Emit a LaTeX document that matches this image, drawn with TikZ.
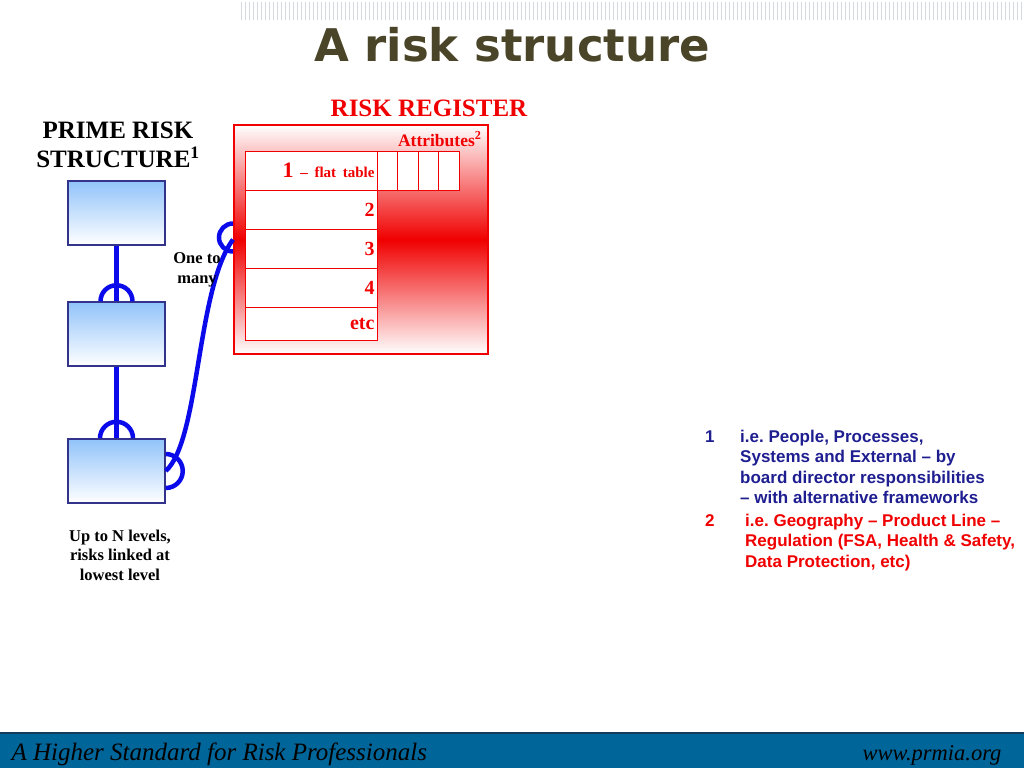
\documentclass[tikz,border=0pt]{standalone}
\usepackage{fontspec}
\setmainfont{Liberation Serif}
\newfontfamily\arialfont{Liberation Sans}
\newfontfamily\verdanafont{DejaVu Sans}
\usetikzlibrary{positioning}
\frenchspacing

\definecolor{prsblue}{RGB}{51,51,140}
\definecolor{prslight}{RGB}{145,195,250}
\definecolor{linkblue}{RGB}{10,10,235}
\definecolor{regred}{RGB}{240,0,0}
\definecolor{titleolive}{RGB}{74,68,40}
\definecolor{notesblue}{RGB}{30,30,145}
\definecolor{bandblue}{RGB}{0,102,153}
\definecolor{bandedge}{RGB}{20,60,90}
\definecolor{stripegray}{RGB}{212,216,226}

\tikzset{
  prsbox/.style={draw=prsblue, line width=1.5pt, top color=prslight, bottom color=white,
    minimum width=97pt, minimum height=64pt},
  regbox/.style={draw=regred, line width=2pt, top color=white, bottom color=white,
    middle color=regred, minimum width=254pt, minimum height=229pt},
  regrow/.style={draw=regred, line width=0.8pt, fill=white, minimum height=39pt,
    text width=127pt, inner xsep=2.5pt, inner ysep=0pt, align=right, outer sep=0pt,
    text=regred, font=\bfseries\fontsize{20}{22}\selectfont},
  attrcell/.style={draw=regred, line width=0.8pt, fill=white, minimum width=20.5pt,
    minimum height=39pt, outer sep=0pt},
  link/.style={draw=linkblue, line width=4.5pt},
  label/.style={font=\bfseries\fontsize{16.5}{19.5}\selectfont, align=center},
  heading/.style={font=\bfseries\fontsize{25}{29}\selectfont, align=center},
  note/.style={font=\arialfont\bfseries\fontsize{17}{20.5}\selectfont, inner sep=0pt, align=left}
}

\begin{document}
\begin{tikzpicture}[x=1pt,y=-1pt]
\useasboundingbox (0,0) rectangle (1024,768);
\foreach \x in {241,245,...,1023}
    \draw[stripegray, line width=0.6pt] (\x,2) -- (\x,20);
\node[font=\verdanafont\bfseries\fontsize{45}{50}\selectfont, text=titleolive] (title) at (512,45) {A risk structure};

% risk register
\node[heading, text=regred] (regtitle) at (429,108) {RISK REGISTER};
\node[regbox] (reg) at (361,239.5) {};
\node[font=\bfseries\fontsize{17.5}{20}\selectfont, text=regred, anchor=base east] (attr) at (485,146) {Attributes\textsuperscript{2}};
\node[regrow, anchor=north west] (r1) at (245,151) {\mbox{{\fontsize{22}{24}\selectfont 1} {\fontsize{15}{17}\selectfont – flat table}}};
\node[regrow, below=0pt of r1] (r2) {2};
\node[regrow, below=0pt of r2] (r3) {3};
\node[regrow, below=0pt of r3] (r4) {4};
\node[regrow, below=0pt of r4, minimum height=33pt] (r5) {etc};
\node[attrcell, right=0pt of r1] (a1) {};
\node[attrcell, right=0pt of a1] (a2) {};
\node[attrcell, right=0pt of a2] (a3) {};
\node[attrcell, right=0pt of a3] (a4) {};

% prime risk structure
\node[heading] (prstitle) at (118,145) {PRIME RISK\\STRUCTURE\textsuperscript{1}};
\node[prsbox] (p1) at (116.5,213) {};
\node[prsbox] (p2) at (116.5,334) {};
\node[prsbox] (p3) at (116.5,471) {};
\draw[link] (p1.south) -- (p2.north);
\draw[link] (p2.south) -- (p3.north);
\draw[link] ([xshift=-16pt]p2.north) arc[start angle=180, end angle=0, radius=16pt];
\draw[link] ([xshift=-16.5pt]p3.north) arc[start angle=180, end angle=0, radius=16.5pt];
\draw[link] ([yshift=17pt]p3.east) arc[start angle=90, end angle=-90, radius=17pt];
\draw[link] ([yshift=16pt]reg.west) arc[start angle=90, end angle=270, radius=14pt];
\draw[link] (p3.east) .. controls (200,440) and (196,290) .. (reg.west);
\node[label] (onetomany) at (197,270) {One to\\many};
\node[label] (levels) at (120,555) {Up to N levels,\\risks linked at\\lowest level};

% notes
\node[note, text=notesblue, anchor=base west] (n1) at (705,442) {1};
\node[note, text=notesblue, anchor=north west] (t1) at (740,429.6) {i.e. People, Processes,\\Systems and External – by\\board director responsibilities\\– with alternative frameworks};
\node[note, text=regred, anchor=base west] (n2) at (705,526) {2};
\node[note, text=regred, anchor=north west] (t2) at (745,513.6) {i.e. Geography – Product Line –\\Regulation (FSA, Health \& Safety,\\Data Protection, etc)};

% footer
\fill[bandblue] (0,733) rectangle (1024,768);
\draw[bandedge, line width=1.5pt] (0,733) -- (1024,733);
\node[font=\itshape\fontsize{25}{28}\selectfont, anchor=base west] (motto) at (8,760) {A Higher Standard for Risk Professionals};
\node[font=\itshape\fontsize{22.5}{26}\selectfont, anchor=base east] (web) at (1005,760) {www.prmia.org};
\end{tikzpicture}
\end{document}
